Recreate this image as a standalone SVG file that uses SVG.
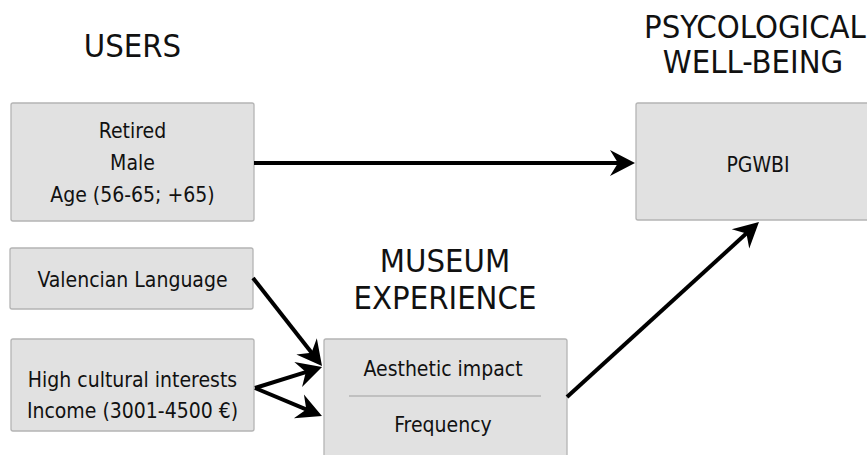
<svg xmlns="http://www.w3.org/2000/svg" width="867" height="455" viewBox="0 0 867 455">
<style>
.box{fill:#e1e1e1;stroke:#b4b4b4;stroke-width:1.3}
.t{font-family:"DejaVu Sans Condensed","DejaVu Sans",sans-serif;font-stretch:condensed;font-size:21px;fill:#111;text-anchor:middle}
.h{font-family:"DejaVu Sans Condensed","DejaVu Sans",sans-serif;font-stretch:condensed;font-size:32.5px;fill:#111;text-anchor:middle}
.c{stroke:#000;stroke-width:4;fill:none;marker-end:url(#ah)}
</style>
<defs>
<marker id="ah" markerUnits="userSpaceOnUse" markerWidth="30" markerHeight="30" refX="13" refY="15" orient="auto" overflow="visible">
<path d="M25,15 L0,2 L8,15 L0,28 Z" fill="#000"/>
</marker>
</defs>
<rect width="867" height="455" fill="#fff"/>
<g id="headers">
<text class="h" x="132.5" y="57">USERS</text>
<text class="h" x="445" y="272">MUSEUM</text>
<text class="h" x="445" y="309">EXPERIENCE</text>
<text class="h" x="755" y="38">PSYCOLOGICAL</text>
<text class="h" x="753" y="73">WELL-BEING</text>
</g>
<g id="users-demographics">
<rect class="box" x="11" y="103" width="243" height="118" rx="2"/>
<text class="t" x="132.5" y="138">Retired</text>
<text class="t" x="132.5" y="170">Male</text>
<text class="t" x="132.5" y="202">Age (56-65; +65)</text>
</g>
<g id="valencian">
<rect class="box" x="10" y="248" width="243" height="61" rx="2"/>
<text class="t" x="132.5" y="287">Valencian Language</text>
</g>
<g id="cultural">
<rect class="box" x="11" y="339" width="243" height="92" rx="2"/>
<text class="t" x="132.5" y="387">High cultural interests</text>
<text class="t" x="132.5" y="418">Income (3001-4500 €)</text>
</g>
<g id="museum">
<rect class="box" x="324" y="339" width="243" height="130" rx="2"/>
<line x1="349" y1="396" x2="541" y2="396" stroke="#b4b4b4" stroke-width="1.3"/>
<text class="t" x="443" y="376">Aesthetic impact</text>
<text class="t" x="443" y="432">Frequency</text>
</g>
<g id="pgwbi">
<rect class="box" x="636" y="103" width="240" height="117" rx="2"/>
<text class="t" x="758" y="172">PGWBI</text>
</g>
<g id="connectors">
<line class="c" x1="254" y1="163" x2="623" y2="163"/>
<line class="c" x1="253" y1="278" x2="314.6" y2="356.6"/>
<line class="c" x1="255" y1="388" x2="310.6" y2="370.6"/>
<line class="c" x1="255" y1="388" x2="310.9" y2="411.4"/>
<line class="c" x1="567" y1="397" x2="750.1" y2="230.1"/>
</g>
</svg>
